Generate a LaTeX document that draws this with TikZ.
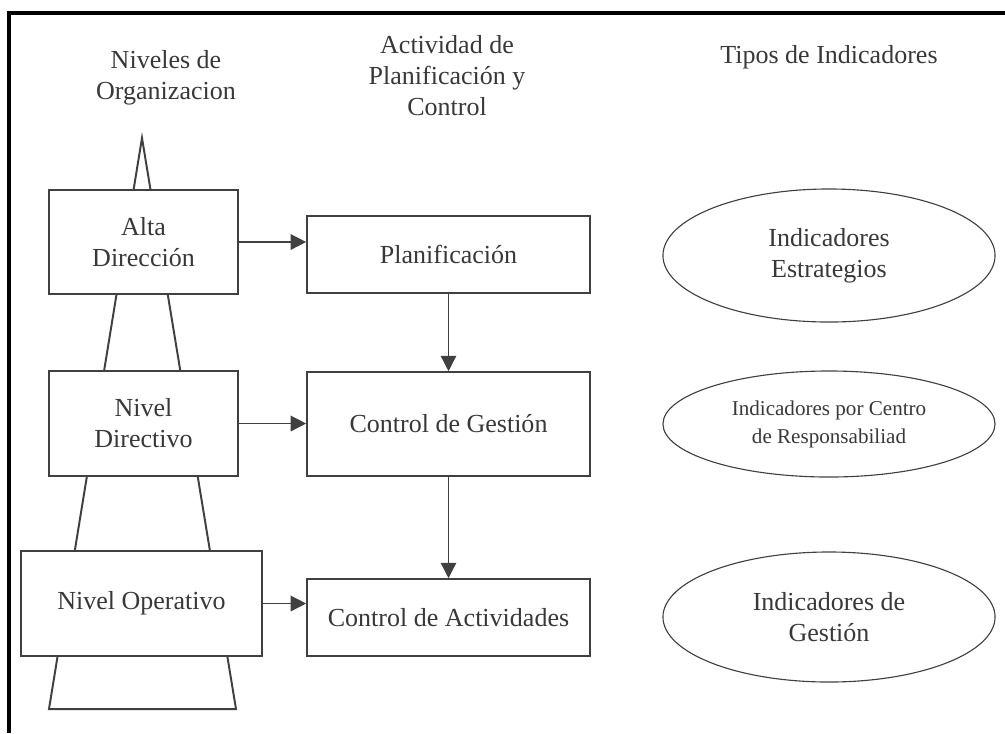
\documentclass[tikz,border=0pt]{standalone}
\usepackage{fontspec}
\setmainfont{Liberation Serif}
\usetikzlibrary{arrows.meta,shapes.geometric,positioning}
\definecolor{linegray}{HTML}{404040}
\definecolor{txtgray}{HTML}{383838}
\tikzstyle{every node}=[font=\fontsize{18.5}{22}\selectfont,text=txtgray,align=center]
\tikzstyle{every path}=[line join=miter]
\tikzstyle{nivel}=[draw=linegray,fill=white,line width=1.1pt,inner sep=2pt]
\tikzstyle{actividad}=[draw=linegray,fill=white,line width=1.1pt,minimum width=7.075cm,inner sep=2pt]
\tikzstyle{indicador}=[draw=linegray,ellipse,line width=0.8pt,minimum width=8.3cm,inner sep=0pt]
\tikzstyle{flecha}=[draw=linegray,line width=1pt,-{Triangle[length=11pt,width=11pt]}]

\begin{document}
\begin{tikzpicture}[x=0.025cm,y=-0.025cm]
\useasboundingbox (0,0) rectangle (1005,733);
% marco
\draw[line width=2.2pt,black] (9,733) -- (9,13) -- (1005,13);
% encabezados
\node (hnivel) at (166,78) {Niveles de\\Organizacion};
\node (hactiv) at (447,76) {Actividad de\\Planificación y\\Control};
\node (htipo) at (829,57) {Tipos de Indicadores};
% piramide
\draw[linegray,line width=1.4pt] (49,709) -- (142,138) -- (236,709) -- cycle;
% niveles
\node[nivel,minimum width=4.725cm,minimum height=2.6cm] (alta) at (143.5,242) {Alta\\Dirección};
\node[nivel,minimum width=4.725cm,minimum height=2.625cm] (directivo) at (143.5,423.5) {Nivel\\Directivo};
\node[nivel,minimum width=6.025cm,minimum height=2.625cm] (operativo) at (141.5,603.5) {Nivel Operativo};
% actividades
\node[actividad,minimum height=1.925cm] (plan) at (448.5,254.5) {Planificación};
\node[actividad,minimum height=2.6cm] (gestion) at (448.5,424) {Control de Gestión};
\node[actividad,minimum height=1.925cm] (activ) at (448.5,617.5) {Control de Actividades};
% indicadores
\node[indicador,minimum height=3.325cm] (estrat) at (829,255.5) {Indicadores\\Estrategios};
\node[indicador,minimum height=2.65cm,font=\fontsize{15}{20}\selectfont] (centro) at (829,424) {Indicadores por Centro\\de Responsabiliad};
\node[indicador,minimum height=3.25cm] (igestion) at (829,617) {Indicadores de\\Gestión};
% flechas
\draw[flecha] (alta.east) -- (alta.east -| plan.west);
\draw[flecha] (directivo.east) -- (directivo.east -| gestion.west);
\draw[flecha] (operativo.east) -- (operativo.east -| activ.west);
\draw[flecha] (plan.south) -- (gestion.north);
\draw[flecha] (gestion.south) -- (activ.north);
\end{tikzpicture}
\end{document}
